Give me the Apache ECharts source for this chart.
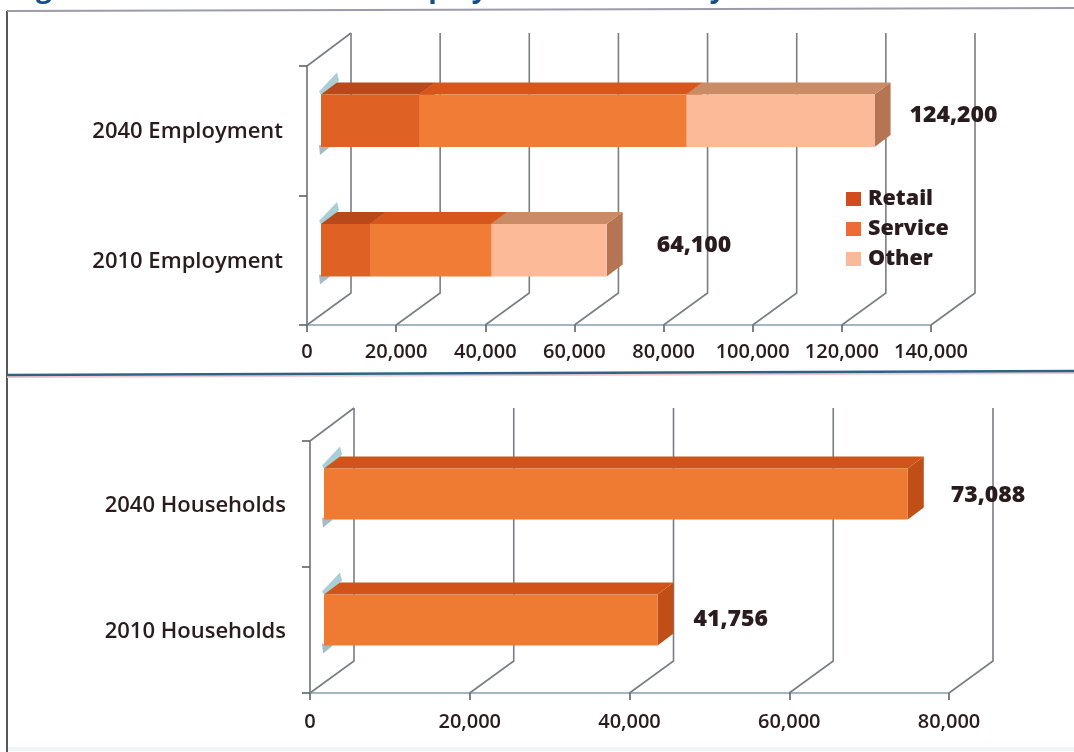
<!DOCTYPE html>
<html>
<head>
<meta charset="utf-8">
<style>html,body{margin:0;padding:0;background:#fff}#chart{width:1074px;height:752px}</style>
<script src="https://cdn.jsdelivr.net/npm/echarts@6/dist/echarts.min.js"></script>
</head>
<body>
<div id="chart"></div>
<script>
// Employment panel
const employmentCategories = ['2010 Employment', '2040 Employment'];
const retailJobs = [11000, 22000];
const serviceJobs = [27200, 60000];
const otherJobs = [25900, 42200];
const employmentTotals = [64100, 124200];
const employmentTicks = [0, 20000, 40000, 60000, 80000, 100000, 120000, 140000];

// Households panel
const householdCategories = ['2010 Households', '2040 Households'];
const households = [41756, 73088];
const householdTicks = [0, 20000, 40000, 60000, 80000];

// Pseudo-3D geometry: wall depth, bar plane offset and bar depth
const WALL = { dx: 44, dy: 32 };
const PLANE = { dx: 14, dy: 10 };
const BOX = { dx: 16, dy: 12, ratio: 0.405 };

const FONT = '"Open Sans", sans-serif';
const INK = '#2a1b1e';
const GRID_LINE = '#7a7e80';

const PALETTE = {
  retail: { front: '#df6224', top: '#b9481a', side: '#a8431a', key: '#d24c1d' },
  service: { front: '#f07c35', top: '#d6561c', side: '#c0531c', key: '#ee6b35' },
  other: { front: '#fdba98', top: '#c98c66', side: '#b57552', key: '#fcb89b' },
  household: { front: '#ef7a32', top: '#d0541a', side: '#bf4f17', key: '#ef7a32' }
};

const fmt = v => v.toLocaleString('en-US');

// Back wall, floor and receding gridlines, one per value tick
function wallRenderer(params, api) {
  const sys = params.coordSys;
  const x = api.coord([api.value(0), 0])[0];
  const floor = sys.y + sys.height;
  const top = sys.y;
  const style = { stroke: GRID_LINE, lineWidth: 1.6, fill: null };
  const children = [{
    type: 'polyline',
    shape: { points: [[x, floor], [x + WALL.dx, floor - WALL.dy], [x + WALL.dx, top - WALL.dy - 1]] },
    style
  }];
  if (params.dataIndex === 0) {
    children.push({ type: 'line', shape: { x1: x, y1: top, x2: x + WALL.dx, y2: top - WALL.dy - 1 }, style });
  }
  return { type: 'group', children };
}

// One box segment: front, top and end faces; the first segment also gets a pale edge shadow
function boxRenderer(colors, shaded) {
  return function (params, api) {
    const cat = api.value(2);
    const start = api.coord([api.value(0), cat]);
    const end = api.coord([api.value(1), cat]);
    const h = Math.abs(api.size([0, 1])[1]) * BOX.ratio;
    const l = start[0] + PLANE.dx;
    const r = end[0] + PLANE.dx;
    const t = start[1] - PLANE.dy - h / 2;
    const b = t + h;
    const face = (pts, fill) => ({ type: 'polygon', shape: { points: pts }, style: { fill } });
    const children = [];
    if (shaded) {
      children.push(face([[l - 2, t - 3], [l + 16, t - 22], [l + 18, t - 14], [l + 2, t + 3]], '#a8cfd8'));
      children.push(face([[l - 2, b - 2], [l + 9, b], [l - 1, b + 8]], '#a3bcc6'));
    }
    children.push(face([[r, t], [r + BOX.dx, t - BOX.dy], [r + BOX.dx, b - BOX.dy], [r, b]], colors.side));
    children.push(face([[l, t], [l + BOX.dx, t - BOX.dy], [r + BOX.dx, t - BOX.dy], [r, t]], colors.top));
    children.push({ type: 'rect', shape: { x: l, y: t, width: r - l, height: h }, style: { fill: colors.front } });
    return { type: 'group', children };
  };
}

// Value captions sit beside the box ends, each nudged by hand
function totalRenderer(shifts) {
  return function (params, api) {
    const i = params.dataIndex;
    const p = api.coord([api.value(0), i]);
    return {
      type: 'text',
      style: {
        x: p[0] + shifts[i][0],
        y: p[1] + shifts[i][1],
        text: fmt(api.value(0)),
        font: '800 23px ' + FONT,
        fill: INK,
        align: 'left',
        verticalAlign: 'middle'
      }
    };
  };
}

function segments(starts, values) {
  return values.map((v, i) => [starts[i], starts[i] + v, i]);
}

const retailEnds = retailJobs.slice();
const serviceEnds = serviceJobs.map((v, i) => v + retailEnds[i]);

function wallSeries(ticks, axis) {
  return {
    type: 'custom', name: 'wall', xAxisIndex: axis, yAxisIndex: axis, z: 1, silent: true,
    renderItem: wallRenderer, encode: { x: 0 }, data: ticks.map(v => [v])
  };
}

function boxSeries(name, colors, data, axis, shaded) {
  return {
    type: 'custom', name, xAxisIndex: axis, yAxisIndex: axis, z: 2,
    renderItem: boxRenderer(colors, shaded), encode: { x: [0, 1], y: 2 }, data,
    itemStyle: { color: colors.key }
  };
}

function totalSeries(values, shifts, axis) {
  return {
    type: 'custom', name: 'total', xAxisIndex: axis, yAxisIndex: axis, z: 4, silent: true,
    renderItem: totalRenderer(shifts), encode: { x: 0 }, data: values.map(v => [v])
  };
}

function valueAxis(grid, ticks, margin) {
  return {
    type: 'value', gridIndex: grid, min: ticks[0], max: ticks[ticks.length - 1], interval: ticks[1] - ticks[0],
    splitLine: { show: false },
    axisLine: { show: true, lineStyle: { color: '#84a0b0', width: 1.6 } },
    axisTick: { show: true, length: 7, lineStyle: { color: '#5c6264', width: 1.6 } },
    axisLabel: { margin, color: INK, fontFamily: FONT, fontSize: 20, fontWeight: 600, formatter: fmt, showMinLabel: true, showMaxLabel: true, hideOverlap: false }
  };
}

// A short top-anchored line box moves the label down from the band centre by half its height
function categoryAxis(grid, categories, drop) {
  return {
    type: 'category', gridIndex: grid, data: categories,
    axisLine: { show: true, lineStyle: { color: '#6c7173', width: 1.6 } },
    axisTick: { show: true, length: 8, lineStyle: { color: '#5c6264', width: 1.6 } },
    axisLabel: { margin: 24, color: INK, fontFamily: FONT, fontSize: 22, fontWeight: 600, verticalAlign: 'top', lineHeight: drop * 2 }
  };
}

const frameLine = (x1, y1, x2, y2, stroke, lineWidth) => ({
  type: 'line', silent: true, z: 0, shape: { x1, y1, x2, y2 }, style: { stroke, lineWidth }
});
const headingPiece = (text, x) => ({
  type: 'text', silent: true, z: 0,
  style: { x, y: -25, text, font: '700 28px ' + FONT, fill: '#124f86' }
});

const chart = echarts.init(document.getElementById('chart'), null, { renderer: 'canvas' });
chart.setOption({
  animation: false,
  backgroundColor: '#ffffff',
  grid: [
    { left: 307, top: 66, width: 624, height: 259 },
    { left: 310, top: 441, width: 639, height: 252 }
  ],
  xAxis: [valueAxis(0, employmentTicks, 17), valueAxis(1, householdTicks, 19)],
  yAxis: [categoryAxis(0, employmentCategories, 1), categoryAxis(1, householdCategories, 2)],
  legend: {
    left: 841, top: 183, orient: 'vertical', itemWidth: 15, itemHeight: 14, itemGap: 8,
    textStyle: { color: INK, fontFamily: FONT, fontSize: 21.5, fontWeight: 800, padding: [0, 0, 0, 2] },
    data: [
      { name: 'Retail', icon: 'rect', itemStyle: { color: PALETTE.retail.key } },
      { name: 'Service', icon: 'rect', itemStyle: { color: PALETTE.service.key } },
      { name: 'Other', icon: 'rect', itemStyle: { color: PALETTE.other.key } }
    ]
  },
  series: [
    wallSeries(employmentTicks, 0),
    boxSeries('Retail', PALETTE.retail, segments([0, 0], retailJobs), 0, true),
    boxSeries('Service', PALETTE.service, segments(retailEnds, serviceJobs), 0, false),
    boxSeries('Other', PALETTE.other, segments(serviceEnds, otherJobs), 0, false),
    totalSeries(employmentTotals, [[64, -15], [49, -15]], 0),
    wallSeries(householdTicks, 1),
    boxSeries('Households', PALETTE.household, segments([0, 0], households), 1, true),
    totalSeries(households, [[50, -11], [57, -9]], 1)
  ],
  graphic: [
    frameLine(7, 11, 7, 752, '#55595c', 2),
    frameLine(7, 11, 1074, 8, '#9b9bab', 2),
    frameLine(7, 377, 1074, 373, '#f0c8cf', 2),
    frameLine(7, 375, 1074, 371, '#2f6386', 2.5),
    frameLine(8, 749, 1074, 749, '#eef6f6', 4),
    headingPiece('Figure', 12),
    headingPiece('Employ', 385),
    headingPiece('by', 692)
  ]
});
</script>
</body>
</html>
